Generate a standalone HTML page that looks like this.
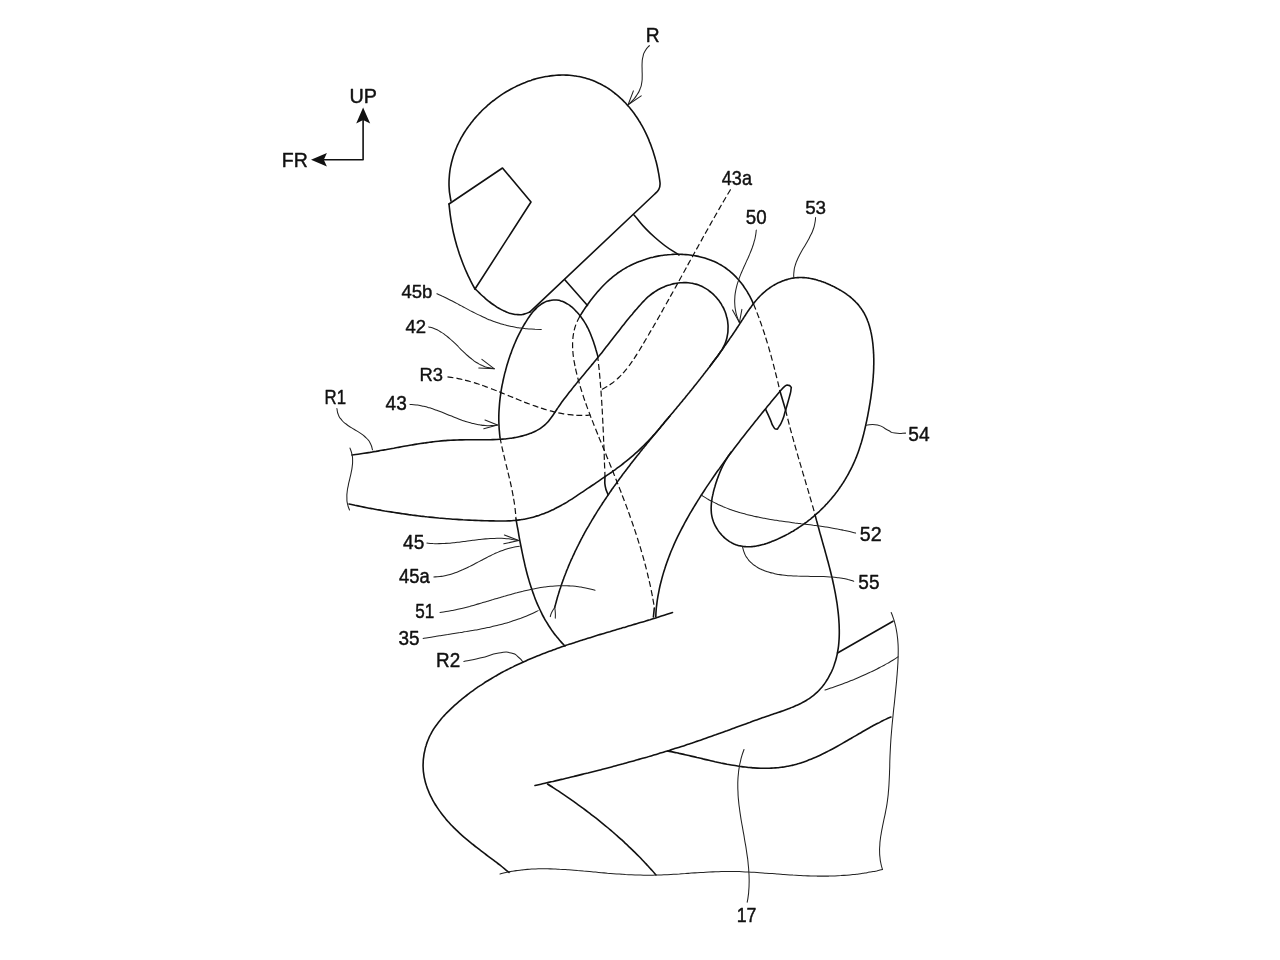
<!DOCTYPE html>
<html><head><meta charset="utf-8"><title>Figure</title>
<style>html,body{margin:0;padding:0;background:#fff;}body{width:1280px;height:960px;overflow:hidden;font-family:"Liberation Sans",sans-serif;}svg{display:block;}</style>
</head><body>
<svg width="1280" height="960" viewBox="0 0 1280 960">
<rect width="1280" height="960" fill="#fff"/>
<g fill="none" stroke="#111" stroke-width="1.6" stroke-linecap="round" stroke-linejoin="round">
<path d="M451.0,201.0C450.6,199.0 450.5,199.0 449.9,194.9C449.3,190.9 449.5,192.9 449.2,188.8C449.0,184.8 449.0,186.8 449.0,182.8C449.1,178.8 449.0,180.8 449.3,176.8C449.6,172.9 449.4,174.8 449.9,170.9C450.5,167.0 450.1,168.9 451.0,165.0C451.8,161.2 451.3,163.1 452.4,159.3C453.5,155.4 452.9,157.3 454.2,153.6C455.5,149.8 454.8,151.7 456.3,148.0C457.9,144.3 457.1,146.1 458.8,142.5C460.6,138.9 459.7,140.7 461.6,137.2C463.6,133.7 462.6,135.4 464.7,132.0C466.9,128.6 465.8,130.3 468.1,127.0C470.5,123.7 469.3,125.3 471.8,122.1C474.3,118.9 473.0,120.5 475.7,117.4C478.4,114.3 477.0,115.8 479.8,112.9C482.7,109.9 481.2,111.3 484.2,108.5C487.2,105.7 485.7,107.1 488.8,104.4C491.9,101.7 490.3,103.0 493.6,100.5C496.8,98.0 495.2,99.2 498.5,96.8C501.9,94.5 500.2,95.6 503.6,93.4C507.1,91.2 505.4,92.3 508.9,90.3C512.4,88.2 510.7,89.2 514.3,87.4C517.9,85.5 516.1,86.4 519.8,84.7C523.5,83.1 521.6,83.8 525.4,82.4C529.1,80.9 527.2,81.6 531.0,80.4C534.8,79.1 532.9,79.7 536.8,78.6C540.6,77.6 538.7,78.1 542.5,77.2C546.4,76.4 544.5,76.8 548.3,76.2C552.2,75.6 550.3,75.8 554.2,75.5C558.0,75.1 556.1,75.2 560.0,75.1C563.9,75.0 561.9,75.0 565.8,75.1C569.7,75.2 567.7,75.1 571.6,75.5C575.4,75.9 573.5,75.6 577.3,76.3C581.1,76.9 579.2,76.5 583.0,77.5C586.7,78.4 584.8,77.9 588.5,79.1C592.2,80.3 590.4,79.6 594.0,81.1C597.6,82.6 595.8,81.8 599.4,83.5C602.9,85.2 601.2,84.3 604.6,86.3C608.0,88.3 606.3,87.2 609.6,89.4C612.9,91.7 611.3,90.5 614.4,93.0C617.6,95.4 616.1,94.1 619.1,96.8C622.1,99.5 620.6,98.1 623.4,100.9C626.3,103.8 624.9,102.3 627.6,105.4C630.3,108.4 629.0,106.9 631.5,110.1C634.0,113.3 632.8,111.6 635.2,115.0C637.5,118.3 636.4,116.6 638.6,120.1C640.8,123.6 639.7,121.8 641.8,125.4C643.8,129.0 642.8,127.2 644.7,130.9C646.5,134.5 645.6,132.7 647.3,136.4C649.0,140.2 648.2,138.3 649.7,142.1C651.3,145.9 650.5,144.0 651.9,147.9C653.3,151.7 652.6,149.8 653.8,153.7C655.0,157.5 654.5,155.6 655.5,159.5C656.6,163.4 656.1,161.4 657.0,165.3C657.9,169.2 657.5,167.3 658.2,171.1C658.9,174.9 658.6,173.0 659.2,176.8C659.8,180.6 659.7,180.6 660.0,182.5C660.5,187.5 658.8,190.8 655,193.75L530,311.9"/>
<path d="M530.0,311.9C528.0,312.6 528.0,313.2 524.0,314.1C519.9,315.1 521.9,314.8 517.9,314.6C513.8,314.5 515.8,314.7 511.8,313.7C507.8,312.8 509.7,313.3 505.8,311.7C501.9,310.1 503.8,311.0 500.0,308.9C496.2,306.8 498.0,307.9 494.4,305.4C490.7,302.9 492.5,304.2 489.0,301.5C485.6,298.7 487.2,300.1 484.0,297.2C480.8,294.4 482.3,295.8 479.3,292.9C476.3,290.1 476.4,290.1 475.0,288.8"/>
<path d="M449.0,204.0L502.5,168.0L531.0,202.0L475.0,289.0"/>
<path d="M449.0,204.0C449.2,206.1 449.2,206.1 449.7,210.4C450.2,214.6 449.9,212.5 450.5,216.7C451.1,220.9 450.8,218.8 451.5,223.0C452.3,227.2 451.9,225.1 452.7,229.3C453.6,233.5 453.1,231.4 454.1,235.5C455.1,239.7 454.6,237.6 455.7,241.7C456.8,245.9 456.2,243.8 457.5,247.9C458.7,252.0 458.1,249.9 459.4,254.0C460.8,258.0 460.1,256.0 461.6,260.0C463.0,264.0 462.3,262.0 463.9,266.0C465.5,269.9 464.6,268.0 466.4,271.9C468.1,275.8 467.2,273.8 469.1,277.7C470.9,281.5 470.0,279.6 471.9,283.4C473.9,287.2 474.0,287.1 475.0,289.0"/>
<path d="M634.0,215.0C641.0,222.5 640.0,224.2 655.0,237.5C670.0,250.8 671.0,249.2 679.0,255.0"/>
<path d="M564.8,279.7L587.5,305.5"/>
<path d="M579.7,316.4C580.8,314.7 580.8,314.7 583.0,311.3C585.2,307.9 584.1,309.6 586.4,306.3C588.8,303.0 587.6,304.6 590.0,301.3C592.4,298.1 591.2,299.7 593.7,296.5C596.3,293.3 595.0,294.9 597.6,291.8C600.3,288.8 598.9,290.3 601.7,287.3C604.4,284.4 603.0,285.8 605.9,283.0C608.8,280.2 607.3,281.6 610.4,278.9C613.4,276.3 611.8,277.6 615.0,275.1C618.2,272.7 616.6,273.8 619.9,271.6C623.2,269.4 621.5,270.4 625.0,268.4C628.5,266.3 626.7,267.3 630.3,265.5C633.9,263.7 632.1,264.5 635.8,262.9C639.5,261.3 637.6,262.1 641.5,260.7C645.3,259.3 643.4,259.9 647.2,258.8C651.1,257.6 649.2,258.1 653.2,257.2C657.1,256.2 655.1,256.7 659.1,255.9C663.2,255.2 661.1,255.5 665.2,255.0C669.3,254.6 667.2,254.7 671.3,254.5C675.4,254.2 673.4,254.3 677.4,254.3C681.5,254.3 679.5,254.2 683.6,254.5C687.7,254.7 685.6,254.5 689.7,255.0C693.7,255.5 691.7,255.2 695.7,255.9C699.7,256.6 697.7,256.2 701.6,257.2C705.5,258.2 703.6,257.6 707.4,258.9C711.2,260.2 709.3,259.5 713.0,261.0C716.7,262.6 714.9,261.8 718.4,263.6C721.9,265.5 720.2,264.5 723.5,266.6C726.8,268.8 725.2,267.6 728.4,270.1C731.5,272.5 730.0,271.2 732.9,273.9C735.8,276.7 734.4,275.3 737.1,278.2C739.8,281.2 738.5,279.7 741.0,282.8C743.6,286.0 742.4,284.4 744.6,287.8C746.9,291.1 745.9,289.4 747.9,293.0C750.0,296.5 749.0,294.7 750.9,298.4C752.7,302.1 752.6,302.1 753.5,304.0"/>
<path d="M815.0,514.5C815.5,516.5 815.5,516.5 816.5,520.4C817.6,524.3 817.1,522.4 818.1,526.3C819.2,530.2 818.7,528.2 819.7,532.1C820.8,536.0 820.3,534.1 821.4,538.0C822.5,541.9 821.9,539.9 823.0,543.8C824.1,547.7 823.6,545.7 824.7,549.6C825.7,553.5 825.2,551.6 826.3,555.5C827.3,559.3 826.8,557.4 827.9,561.3C828.9,565.2 828.4,563.2 829.4,567.1C830.4,571.0 829.9,569.1 830.9,573.0C831.8,576.9 831.4,574.9 832.3,578.8C833.2,582.7 832.7,580.8 833.6,584.7C834.4,588.6 834.0,586.7 834.8,590.6C835.6,594.6 835.2,592.6 835.9,596.6C836.6,600.5 836.2,598.5 836.9,602.5C837.5,606.5 837.2,604.5 837.7,608.6C838.2,612.6 838.0,610.6 838.4,614.6C838.8,618.7 838.6,616.7 838.9,620.7C839.1,624.8 839.1,622.8 839.2,626.9C839.3,631.0 839.3,628.9 839.3,633.0C839.2,637.1 839.3,635.1 839.1,639.2C838.8,643.2 839.0,641.2 838.6,645.3C838.1,649.3 838.4,647.3 837.7,651.3C837.0,655.3 837.4,653.3 836.5,657.2C835.5,661.2 836.1,659.2 834.8,663.1C833.6,666.9 834.3,665.0 832.8,668.8C831.2,672.5 832.1,670.7 830.2,674.2C828.4,677.8 829.4,676.1 827.3,679.5C825.2,682.9 826.3,681.3 824.0,684.4C821.6,687.6 822.9,686.1 820.2,689.0C817.6,691.9 819.0,690.5 816.1,693.2C813.2,695.8 814.7,694.6 811.5,696.9C808.4,699.2 810.0,698.1 806.6,700.2C803.3,702.2 805.0,701.2 801.4,703.1C797.9,704.9 799.7,704.0 796.0,705.6C792.3,707.3 794.2,706.5 790.4,708.0C786.6,709.5 788.5,708.8 784.6,710.2C780.7,711.6 782.6,710.9 778.7,712.2C774.8,713.6 776.8,712.9 772.9,714.2C769.0,715.5 770.9,714.9 767.0,716.2C763.1,717.6 765.1,716.9 761.2,718.2C757.4,719.6 759.3,718.9 755.4,720.3C751.6,721.7 753.5,721.0 749.7,722.4C745.9,723.7 747.8,723.1 744.0,724.4C740.2,725.8 742.1,725.1 738.3,726.5C734.5,727.9 736.4,727.2 732.7,728.6C728.9,730.0 730.8,729.3 727.0,730.7C723.2,732.0 725.1,731.4 721.3,732.7C717.6,734.1 719.5,733.4 715.7,734.8C711.9,736.1 713.8,735.5 710.0,736.8C706.2,738.1 708.1,737.5 704.3,738.8C700.6,740.1 702.4,739.5 698.6,740.8C694.8,742.1 696.8,741.4 692.9,742.7C689.1,744.0 691.0,743.4 687.2,744.6C683.4,745.9 685.3,745.3 681.5,746.5C677.6,747.7 679.6,747.1 675.7,748.3C671.9,749.6 673.8,749.0 669.9,750.2C666.1,751.4 668.0,750.8 664.1,752.0C660.3,753.1 662.2,752.6 658.3,753.7C654.5,754.9 656.4,754.3 652.5,755.5C648.7,756.6 650.6,756.0 646.7,757.2C642.8,758.3 644.8,757.7 640.9,758.8C637.0,760.0 638.9,759.4 635.0,760.5C631.1,761.6 633.1,761.1 629.2,762.1C625.3,763.2 627.2,762.7 623.3,763.8C619.4,764.8 621.4,764.3 617.4,765.3C613.5,766.4 615.5,765.9 611.6,766.9C607.6,767.9 609.6,767.4 605.7,768.4C601.8,769.5 603.7,769.0 599.8,770.0C595.9,771.0 597.8,770.5 593.9,771.5C590.0,772.5 591.9,772.0 588.0,773.0C584.1,773.9 586.1,773.4 582.1,774.4C578.2,775.4 580.2,774.9 576.2,775.9C572.3,776.8 574.3,776.3 570.3,777.3C566.4,778.2 568.4,777.8 564.4,778.7C560.5,779.6 562.5,779.2 558.5,780.1C554.6,781.0 556.6,780.5 552.7,781.5C548.7,782.4 550.7,781.9 546.8,782.8C542.8,783.7 544.8,783.3 540.9,784.2C537.0,785.1 537.0,785.1 535.0,785.5"/>
<path d="M554.7,607.5C554.9,606.8 554.9,606.8 555.3,605.3C555.7,603.8 555.5,604.5 555.9,603.1C556.3,601.6 556.1,602.3 556.5,600.8C556.9,599.4 556.7,600.1 557.1,598.6C557.5,597.2 557.3,597.9 557.7,596.4C558.2,595.0 557.9,595.7 558.4,594.2C558.8,592.8 558.6,593.5 559.1,592.1C559.5,590.6 559.3,591.3 559.7,589.9C560.2,588.4 560.0,589.2 560.5,587.7C560.9,586.3 560.7,587.0 561.2,585.6C561.7,584.1 561.4,584.8 561.9,583.4C562.4,582.0 562.2,582.7 562.7,581.2C563.2,579.8 562.9,580.5 563.5,579.1C564.0,577.7 563.7,578.4 564.2,577.0C564.8,575.6 564.5,576.3 565.1,574.8C565.6,573.4 565.3,574.1 565.9,572.7C566.4,571.3 566.2,572.0 566.7,570.6C567.3,569.2 567.0,569.9 567.6,568.5C568.1,567.1 567.9,567.8 568.4,566.4C569.0,565.0 568.7,565.7 569.3,564.3C569.9,562.9 569.6,563.6 570.2,562.2C570.8,560.8 570.5,561.5 571.1,560.2C571.7,558.8 571.4,559.5 572.1,558.1C572.7,556.7 572.4,557.4 573.0,556.0C573.6,554.6 573.3,555.3 574.0,554.0C574.6,552.6 574.3,553.3 574.9,551.9C575.6,550.5 575.2,551.2 575.9,549.9C576.6,548.5 576.2,549.2 576.9,547.8C577.6,546.5 577.2,547.1 577.9,545.8C578.6,544.4 578.2,545.1 578.9,543.8C579.6,542.4 579.3,543.1 580.0,541.7C580.7,540.4 580.3,541.1 581.0,539.7C581.7,538.4 581.4,539.0 582.1,537.7C582.8,536.4 582.4,537.0 583.1,535.7C583.9,534.4 583.5,535.0 584.2,533.7C584.9,532.4 584.6,533.0 585.3,531.7C586.1,530.4 585.7,531.1 586.4,529.7C587.2,528.4 586.8,529.1 587.5,527.8C588.3,526.4 587.9,527.1 588.7,525.8C589.4,524.5 589.1,525.1 589.8,523.8C590.6,522.5 590.2,523.2 591.0,521.9C591.7,520.6 591.3,521.2 592.1,519.9C592.9,518.6 592.5,519.2 593.3,518.0C594.1,516.7 593.7,517.3 594.5,516.0C595.3,514.7 594.9,515.4 595.7,514.1C596.5,512.8 596.1,513.4 596.9,512.1C597.7,510.8 597.3,511.5 598.1,510.2C598.9,508.9 598.5,509.6 599.3,508.3C600.1,507.0 599.7,507.6 600.5,506.4C601.4,505.1 601.0,505.7 601.8,504.5C602.6,503.2 602.2,503.8 603.0,502.5C603.9,501.3 603.5,501.9 604.3,500.6C605.1,499.4 604.7,500.0 605.6,498.8C606.4,497.5 606.0,498.1 606.8,496.9C607.7,495.6 607.3,496.2 608.1,495.0C609.0,493.7 608.6,494.3 609.4,493.1C610.3,491.8 609.8,492.5 610.7,491.2C611.6,490.0 611.1,490.6 612.0,489.3C612.9,488.1 612.5,488.7 613.3,487.5C614.2,486.2 613.8,486.9 614.7,485.6C615.5,484.4 615.1,485.0 616.0,483.8C616.9,482.5 616.4,483.1 617.3,481.9C618.2,480.7 617.8,481.3 618.7,480.1C619.6,478.8 619.1,479.4 620.0,478.2C620.9,477.0 620.5,477.6 621.4,476.4C622.3,475.2 621.8,475.8 622.7,474.5C623.6,473.3 623.2,473.9 624.1,472.7C625.0,471.5 624.6,472.1 625.5,470.9C626.4,469.7 625.9,470.3 626.9,469.1C627.8,467.9 627.3,468.5 628.2,467.3C629.2,466.1 628.7,466.7 629.6,465.5C630.6,464.2 630.1,464.8 631.0,463.6C632.0,462.4 631.5,463.0 632.4,461.8C633.4,460.6 632.9,461.2 633.8,460.0C634.8,458.8 634.3,459.4 635.2,458.2C636.2,457.1 635.7,457.6 636.6,456.5C637.6,455.3 637.1,455.9 638.1,454.7C639.0,453.5 638.5,454.1 639.5,452.9C640.4,451.7 640.0,452.3 640.9,451.1C641.9,449.9 641.4,450.5 642.3,449.3C643.3,448.1 642.8,448.7 643.8,447.6C644.7,446.4 644.2,447.0 645.2,445.8C646.2,444.6 645.7,445.2 646.6,444.0C647.6,442.8 647.1,443.4 648.1,442.3C649.0,441.1 648.6,441.7 649.5,440.5C650.5,439.3 650.0,439.9 651.0,438.7C651.9,437.6 651.4,438.1 652.4,437.0C653.4,435.8 652.9,436.4 653.9,435.2C654.8,434.1 654.3,434.6 655.3,433.5C656.3,432.3 655.8,432.9 656.8,431.7C657.7,430.5 657.2,431.1 658.2,430.0C659.2,428.8 658.7,429.4 659.7,428.2C660.6,427.0 660.2,427.6 661.1,426.5C662.1,425.3 661.6,425.9 662.6,424.7C663.6,423.5 663.1,424.1 664.0,423.0C665.0,421.8 664.5,422.4 665.5,421.2C666.5,420.1 666.0,420.6 667.0,419.5C667.9,418.3 667.4,418.9 668.4,417.7C669.4,416.6 668.9,417.1 669.9,416.0C670.8,414.8 670.4,415.4 671.3,414.2C672.3,413.1 671.8,413.7 672.8,412.5C673.8,411.3 673.3,411.9 674.2,410.7C675.2,409.6 674.7,410.2 675.7,409.0C676.7,407.8 676.2,408.4 677.1,407.2C678.1,406.1 677.6,406.7 678.6,405.5C679.6,404.3 679.1,404.9 680.0,403.7C681.0,402.6 680.5,403.2 681.5,402.0C682.5,400.8 682.0,401.4 682.9,400.2C683.9,399.1 683.4,399.7 684.4,398.5C685.4,397.3 684.9,397.9 685.8,396.7C686.8,395.5 686.3,396.1 687.3,395.0C688.2,393.8 687.8,394.4 688.7,393.2C689.7,392.0 689.2,392.6 690.1,391.4C691.1,390.3 690.6,390.8 691.6,389.7C692.5,388.5 692.1,389.1 693.0,387.9C694.0,386.7 693.5,387.3 694.4,386.1C695.4,384.9 694.9,385.5 695.8,384.4C696.8,383.2 696.3,383.8 697.3,382.6C698.2,381.4 697.7,382.0 698.7,380.8C699.6,379.6 699.1,380.2 700.1,379.0C701.0,377.8 700.6,378.4 701.5,377.2C702.4,376.0 702.0,376.6 702.9,375.4C703.8,374.2 703.4,374.8 704.3,373.6C705.2,372.4 704.8,373.0 705.7,371.8C706.6,370.6 706.1,371.2 707.1,370.0C708.0,368.8 707.5,369.4 708.4,368.2C709.4,367.0 708.9,367.6 709.8,366.4C710.7,365.2 710.3,365.8 711.2,364.6C712.1,363.4 711.6,364.0 712.6,362.7C713.5,361.5 713.0,362.1 713.9,360.9C714.8,359.7 714.4,360.3 715.3,359.1C716.2,357.9 715.7,358.5 716.6,357.3C717.5,356.0 717.1,356.6 718.0,355.4C718.9,354.2 718.4,354.8 719.3,353.6C720.2,352.3 719.8,353.0 720.6,351.7C721.5,350.5 721.1,351.1 722.0,349.9C722.9,348.6 722.4,349.2 723.3,348.0C724.2,346.8 723.7,347.4 724.6,346.1C725.5,344.9 725.1,345.5 725.9,344.3C726.8,343.0 726.4,343.7 727.2,342.4C728.1,341.2 727.7,341.8 728.5,340.5C729.4,339.3 729.0,339.9 729.8,338.6C730.7,337.4 730.3,338.0 731.1,336.8C732.0,335.5 731.5,336.1 732.4,334.9C733.3,333.6 732.8,334.2 733.7,333.0C734.5,331.7 734.1,332.3 735.0,331.1C735.8,329.8 735.4,330.4 736.2,329.2C737.1,327.9 736.6,328.5 737.5,327.3C738.3,326.0 737.9,326.6 738.7,325.4C739.6,324.1 739.2,324.7 740.0,323.4C740.8,322.2 740.4,322.8 741.2,321.5C742.1,320.2 741.6,320.9 742.5,319.6C743.3,318.3 742.9,318.9 743.7,317.7C744.5,316.4 744.1,317.0 745.0,315.8C745.8,314.5 745.4,315.1 746.2,313.8C747.1,312.6 746.6,313.2 747.5,311.9C748.3,310.7 747.9,311.3 748.8,310.1C749.6,308.8 749.2,309.4 750.1,308.2C751.0,307.0 750.5,307.6 751.4,306.4C752.3,305.1 751.9,305.7 752.8,304.5C753.7,303.3 753.2,303.9 754.2,302.8C755.1,301.6 754.6,302.2 755.6,301.0C756.6,299.8 756.1,300.4 757.1,299.3C758.1,298.1 757.6,298.7 758.6,297.6C759.6,296.5 759.1,297.0 760.1,296.0C761.2,294.9 760.7,295.4 761.8,294.4C762.9,293.3 762.3,293.8 763.4,292.8C764.6,291.8 764.0,292.3 765.2,291.3C766.3,290.3 765.7,290.8 766.9,289.9C768.2,288.9 767.5,289.4 768.8,288.5C770.0,287.6 769.4,288.0 770.7,287.2C772.0,286.3 771.3,286.7 772.7,285.9C774.0,285.1 773.3,285.5 774.7,284.7C776.0,284.0 775.3,284.4 776.7,283.6C778.1,282.9 777.4,283.3 778.8,282.6C780.2,282.0 779.5,282.3 780.9,281.7C782.3,281.1 781.6,281.4 783.0,280.8C784.5,280.3 783.7,280.5 785.2,280.0C786.6,279.6 785.9,279.8 787.4,279.4C788.8,279.0 788.1,279.1 789.6,278.8C791.0,278.4 790.3,278.6 791.8,278.3C793.2,278.0 792.5,278.2 794.0,278.0C795.5,277.8 794.7,277.8 796.2,277.7C797.7,277.6 796.9,277.6 798.4,277.6C799.9,277.5 799.2,277.5 800.6,277.5C802.1,277.5 801.4,277.5 802.8,277.6C804.3,277.6 803.6,277.6 805.1,277.7C806.5,277.8 805.8,277.8 807.3,278.0C808.8,278.1 808.0,278.0 809.5,278.3C811.0,278.5 810.2,278.4 811.7,278.7C813.2,279.0 812.4,278.8 813.9,279.2C815.4,279.5 814.6,279.3 816.1,279.7C817.6,280.1 816.8,279.9 818.3,280.4C819.7,280.8 819.0,280.6 820.5,281.0C821.9,281.5 821.2,281.3 822.6,281.8C824.1,282.3 823.4,282.1 824.8,282.6C826.2,283.2 825.5,282.9 827.0,283.5C828.4,284.1 827.7,283.8 829.1,284.4C830.5,285.0 829.8,284.7 831.2,285.4C832.6,286.0 831.9,285.7 833.3,286.4C834.7,287.1 834.0,286.7 835.4,287.5C836.8,288.2 836.1,287.8 837.5,288.6C838.9,289.3 838.2,288.9 839.5,289.7C840.9,290.5 840.2,290.1 841.5,290.9C842.9,291.7 842.2,291.3 843.5,292.1C844.8,293.0 844.2,292.6 845.4,293.4C846.7,294.3 846.1,293.9 847.3,294.8C848.6,295.7 848.0,295.2 849.2,296.2C850.4,297.1 849.8,296.6 851.0,297.6C852.1,298.6 851.5,298.1 852.7,299.1C853.8,300.1 853.3,299.6 854.3,300.7C855.4,301.7 854.9,301.2 855.9,302.3C857.0,303.3 856.5,302.8 857.5,303.9C858.5,305.0 858.0,304.4 858.9,305.6C859.9,306.8 859.4,306.2 860.3,307.4C861.2,308.5 860.8,307.9 861.6,309.2C862.4,310.4 862.0,309.8 862.8,311.0C863.6,312.3 863.2,311.6 864.0,312.9C864.7,314.2 864.3,313.6 865.0,314.9C865.7,316.2 865.4,315.5 866.0,316.9C866.6,318.2 866.3,317.6 866.9,318.9C867.5,320.3 867.2,319.6 867.7,321.0C868.3,322.4 868.0,321.7 868.5,323.1C869.0,324.6 868.7,323.8 869.2,325.3C869.6,326.7 869.4,326.0 869.8,327.5C870.2,328.9 870.0,328.2 870.4,329.7C870.8,331.1 870.6,330.4 870.9,331.9C871.3,333.4 871.1,332.6 871.4,334.1C871.7,335.6 871.5,334.9 871.8,336.4C872.1,337.9 871.9,337.2 872.2,338.7C872.4,340.2 872.3,339.4 872.5,341.0C872.7,342.5 872.6,341.7 872.8,343.3C873.0,344.8 872.9,344.0 873.0,345.5C873.2,347.1 873.1,346.3 873.2,347.8C873.4,349.4 873.3,348.6 873.4,350.1C873.5,351.7 873.5,350.9 873.5,352.4C873.6,353.9 873.6,353.2 873.7,354.7C873.7,356.2 873.7,355.5 873.7,357.0C873.8,358.5 873.8,357.8 873.8,359.3C873.8,360.8 873.8,360.0 873.8,361.6C873.8,363.1 873.8,362.3 873.8,363.8C873.8,365.4 873.8,364.6 873.7,366.1C873.7,367.6 873.7,366.9 873.7,368.4C873.6,369.9 873.7,369.1 873.6,370.7C873.5,372.2 873.6,371.4 873.5,372.9C873.4,374.5 873.4,373.7 873.3,375.2C873.2,376.7 873.3,376.0 873.2,377.5C873.0,379.0 873.1,378.2 873.0,379.7C872.8,381.3 872.9,380.5 872.8,382.0C872.6,383.5 872.7,382.8 872.5,384.3C872.4,385.8 872.5,385.0 872.3,386.5C872.1,388.0 872.2,387.3 872.0,388.8C871.8,390.3 871.9,389.5 871.7,391.0C871.5,392.6 871.6,391.8 871.4,393.3C871.2,394.8 871.3,394.1 871.1,395.6C870.9,397.1 871.0,396.3 870.8,397.8C870.6,399.3 870.7,398.6 870.4,400.1C870.2,401.6 870.3,400.8 870.1,402.3C869.8,403.8 870.0,403.1 869.7,404.6C869.4,406.1 869.6,405.3 869.3,406.8C869.1,408.3 869.2,407.6 868.9,409.1C868.7,410.6 868.8,409.8 868.5,411.3C868.2,412.8 868.4,412.1 868.1,413.6C867.8,415.1 868.0,414.3 867.7,415.8C867.4,417.3 867.5,416.6 867.2,418.1C866.9,419.6 867.1,418.8 866.8,420.3C866.5,421.8 866.6,421.0 866.3,422.5C866.0,424.0 866.2,423.3 865.8,424.8C865.5,426.3 865.7,425.5 865.3,427.0C865.0,428.5 865.2,427.7 864.8,429.2C864.5,430.7 864.7,430.0 864.3,431.4C863.9,432.9 864.1,432.2 863.8,433.6C863.4,435.1 863.6,434.4 863.2,435.8C862.8,437.3 863.0,436.6 862.6,438.0C862.2,439.5 862.4,438.8 862.0,440.2C861.6,441.7 861.8,441.0 861.4,442.4C860.9,443.9 861.1,443.1 860.7,444.6C860.2,446.0 860.5,445.3 860.0,446.7C859.5,448.2 859.8,447.5 859.3,448.9C858.8,450.3 859.1,449.6 858.6,451.0C858.1,452.5 858.3,451.8 857.8,453.2C857.3,454.6 857.5,453.9 857.0,455.3C856.5,456.7 856.7,456.0 856.2,457.4C855.6,458.8 855.9,458.1 855.3,459.5C854.8,460.9 855.0,460.2 854.4,461.6C853.8,462.9 854.1,462.3 853.5,463.6C852.9,465.0 853.2,464.3 852.6,465.7C851.9,467.0 852.3,466.4 851.6,467.7C850.9,469.1 851.3,468.4 850.6,469.7C849.9,471.1 850.3,470.4 849.5,471.7C848.8,473.1 849.2,472.4 848.5,473.7C847.8,475.1 848.1,474.4 847.4,475.7C846.6,477.0 847.0,476.4 846.2,477.7C845.5,479.0 845.9,478.3 845.1,479.6C844.3,480.9 844.7,480.3 843.9,481.5C843.1,482.8 843.5,482.2 842.7,483.4C841.8,484.7 842.3,484.1 841.4,485.3C840.6,486.6 841.0,486.0 840.1,487.2C839.3,488.4 839.7,487.8 838.8,489.1C838.0,490.3 838.4,489.7 837.5,490.9C836.6,492.1 837.1,491.5 836.1,492.7C835.2,493.9 835.7,493.3 834.8,494.5C833.8,495.7 834.3,495.1 833.3,496.3C832.4,497.4 832.9,496.9 831.9,498.0C830.9,499.2 831.4,498.6 830.4,499.8C829.4,500.9 829.9,500.3 828.9,501.5C827.9,502.6 828.4,502.0 827.4,503.2C826.4,504.3 826.9,503.7 825.8,504.8C824.8,505.9 825.3,505.4 824.3,506.5C823.2,507.6 823.7,507.0 822.7,508.1C821.6,509.2 822.1,508.6 821.0,509.7C820.0,510.7 820.5,510.2 819.4,511.3C818.3,512.3 818.8,511.8 817.7,512.8C816.6,513.8 817.2,513.3 816.0,514.3C814.9,515.4 815.5,514.8 814.3,515.8C813.1,516.8 813.7,516.3 812.5,517.3C811.4,518.3 812.0,517.8 810.8,518.8C809.6,519.7 810.2,519.3 809.0,520.2C807.8,521.1 808.4,520.7 807.2,521.6C805.9,522.5 806.6,522.1 805.3,523.0C804.1,523.9 804.7,523.4 803.5,524.3C802.2,525.2 802.8,524.8 801.6,525.6C800.3,526.5 800.9,526.1 799.7,526.9C798.4,527.8 799.0,527.4 797.7,528.2C796.4,529.0 797.1,528.6 795.8,529.4C794.5,530.3 795.1,529.9 793.8,530.7C792.5,531.5 793.1,531.1 791.8,531.8C790.5,532.6 791.1,532.2 789.8,533.0C788.4,533.7 789.1,533.4 787.8,534.1C786.4,534.8 787.1,534.5 785.7,535.2C784.3,535.9 785.0,535.6 783.6,536.3C782.2,537.0 782.9,536.6 781.5,537.3C780.1,538.0 780.8,537.6 779.4,538.3C778.0,538.9 778.7,538.6 777.3,539.3C775.8,539.9 776.6,539.6 775.1,540.2C773.7,540.8 774.4,540.5 772.9,541.1C771.5,541.7 772.2,541.4 770.8,541.9C769.3,542.5 770.0,542.2 768.6,542.7C767.1,543.3 767.8,543.0 766.4,543.5C764.9,544.0 765.6,543.7 764.1,544.2C762.7,544.6 763.4,544.4 761.9,544.8C760.5,545.2 761.2,545.0 759.7,545.3C758.2,545.7 759.0,545.5 757.5,545.8C756.0,546.1 756.8,546.0 755.3,546.2C753.8,546.4 754.6,546.3 753.1,546.5C751.6,546.6 752.4,546.6 750.9,546.7C749.4,546.7 750.2,546.7 748.7,546.7C747.3,546.8 748.0,546.8 746.5,546.7C745.1,546.7 745.8,546.7 744.4,546.6C743.0,546.4 743.7,546.5 742.3,546.3C740.9,546.1 741.6,546.2 740.2,545.9C738.8,545.6 739.5,545.8 738.1,545.4C736.7,545.0 737.4,545.2 736.0,544.7C734.7,544.2 735.4,544.5 734.0,543.9C732.7,543.3 733.3,543.6 732.0,543.0C730.7,542.3 731.4,542.6 730.1,541.9C728.8,541.1 729.4,541.5 728.2,540.6C727.0,539.8 727.6,540.2 726.4,539.3C725.2,538.3 725.7,538.8 724.6,537.8C723.4,536.8 724.0,537.3 722.9,536.2C721.8,535.1 722.3,535.7 721.3,534.5C720.3,533.4 720.8,533.9 719.8,532.7C718.8,531.5 719.3,532.1 718.4,530.9C717.5,529.6 717.9,530.3 717.1,528.9C716.2,527.6 716.6,528.3 715.9,526.9C715.1,525.6 715.5,526.3 714.8,524.9C714.1,523.5 714.4,524.2 713.9,522.8C713.3,521.4 713.5,522.1 713.1,520.6C712.6,519.2 712.8,519.9 712.4,518.5C712.0,517.0 712.2,517.7 711.9,516.3C711.6,514.8 711.7,515.5 711.5,514.0C711.3,512.5 711.4,513.3 711.3,511.8C711.2,510.3 711.2,511.0 711.2,509.5C711.1,508.0 711.1,508.8 711.2,507.2C711.2,505.7 711.2,506.5 711.3,504.9C711.4,503.4 711.3,504.2 711.5,502.6C711.6,501.1 711.5,501.9 711.8,500.3C712.0,498.8 711.9,499.6 712.1,498.0C712.4,496.5 712.2,497.3 712.6,495.7C712.9,494.2 712.7,495.0 713.1,493.5C713.4,491.9 713.2,492.7 713.6,491.2C714.0,489.7 713.8,490.4 714.2,488.9C714.6,487.4 714.4,488.2 714.9,486.7C715.3,485.2 715.1,485.9 715.5,484.5C716.0,483.0 715.8,483.7 716.2,482.3C716.7,480.8 716.5,481.5 717.0,480.1C717.4,478.7 717.2,479.4 717.7,477.9C718.2,476.5 718.0,477.2 718.5,475.8C719.0,474.4 718.7,475.1 719.3,473.7C719.8,472.3 719.6,473.0 720.1,471.7C720.7,470.3 720.4,471.0 721.0,469.6C721.6,468.2 721.3,468.9 721.9,467.6C722.6,466.2 722.2,466.9 722.9,465.6C723.6,464.2 723.2,464.9 723.9,463.6C724.6,462.3 724.3,462.9 725.0,461.6C725.7,460.3 725.4,460.9 726.1,459.6C726.9,458.4 726.5,459.0 727.3,457.7C728.1,456.4 727.7,457.1 728.6,455.8C729.4,454.5 729.0,455.2 729.9,453.9C730.8,452.6 730.8,452.6 731.2,452.0"/>
<path d="M351.9,455.0C353.9,454.7 353.9,454.8 358.0,454.2C362.0,453.6 360.0,453.9 364.0,453.3C368.0,452.7 366.0,453.0 370.0,452.4C374.0,451.7 372.0,452.0 376.0,451.4C379.9,450.7 378.0,451.0 381.9,450.3C385.9,449.6 383.9,450.0 387.9,449.2C391.8,448.5 389.8,448.9 393.8,448.2C397.8,447.4 395.8,447.8 399.7,447.1C403.7,446.4 401.7,446.7 405.7,446.0C409.6,445.3 407.6,445.7 411.6,445.0C415.5,444.3 413.6,444.6 417.5,444.0C421.5,443.4 419.5,443.7 423.5,443.1C427.4,442.5 425.4,442.8 429.4,442.3C433.4,441.8 431.4,442.0 435.4,441.5C439.4,441.1 437.4,441.3 441.4,440.9C445.4,440.6 443.4,440.7 447.5,440.4C451.5,440.1 449.5,440.3 453.5,440.1C457.6,439.9 455.5,440.0 459.6,439.9C463.7,439.8 461.7,439.8 465.8,439.8C469.8,439.8 467.8,439.8 471.9,439.8C476.0,439.8 474.0,439.8 478.1,439.8C482.2,439.8 480.1,439.8 484.2,439.8C488.3,439.7 486.3,439.8 490.3,439.7C494.4,439.6 492.4,439.7 496.4,439.5C500.5,439.3 498.5,439.4 502.5,439.1C506.5,438.8 504.5,439.0 508.5,438.5C512.5,438.0 510.5,438.3 514.4,437.6C518.4,436.9 516.4,437.4 520.3,436.4C524.2,435.5 522.3,436.1 526.0,434.9C529.8,433.7 528.0,434.4 531.6,432.9C535.2,431.4 533.5,432.2 536.9,430.4C540.3,428.5 538.7,429.6 541.8,427.3C545.0,425.0 543.5,426.2 546.3,423.5C549.1,420.7 547.7,422.1 550.2,419.0C552.7,415.8 551.4,417.4 553.8,414.0C556.1,410.6 554.9,412.3 557.2,408.8C559.5,405.4 558.3,407.1 560.7,403.8C563.1,400.4 561.9,402.1 564.3,398.8C566.8,395.6 565.5,397.2 568.0,394.0C570.5,390.8 569.3,392.4 571.8,389.2C574.3,386.0 573.0,387.6 575.6,384.5C578.1,381.4 576.8,382.9 579.4,379.8C582.0,376.7 580.7,378.3 583.3,375.2C585.8,372.1 584.6,373.6 587.1,370.6C589.7,367.5 588.4,369.0 591.0,365.9C593.6,362.8 592.3,364.4 594.8,361.3C597.4,358.2 596.1,359.7 598.6,356.6C601.2,353.5 599.9,355.0 602.4,351.9C604.9,348.7 603.6,350.3 606.1,347.1C608.6,343.9 607.4,345.5 609.9,342.3C612.3,339.1 611.1,340.7 613.6,337.5C616.0,334.3 614.8,335.9 617.3,332.8C619.8,329.6 618.5,331.2 621.0,328.0C623.5,324.8 622.3,326.4 624.8,323.2C627.3,320.1 626.0,321.6 628.6,318.5C631.1,315.4 629.9,316.9 632.5,313.9C635.0,310.8 633.7,312.3 636.4,309.3C639.0,306.2 637.7,307.7 640.4,304.7C643.1,301.7 641.6,303.1 644.5,300.3C647.3,297.4 645.8,298.8 648.9,296.2C652.0,293.5 650.4,294.8 653.8,292.5C657.1,290.2 655.4,291.2 659.0,289.3C662.6,287.4 660.8,288.2 664.5,286.7C668.3,285.1 666.4,285.8 670.3,284.7C674.2,283.5 672.3,284.0 676.2,283.3C680.2,282.7 678.2,282.9 682.2,282.7C686.1,282.5 684.2,282.5 688.1,282.8C692.0,283.1 690.1,282.8 693.9,283.7C697.8,284.6 695.9,284.0 699.6,285.5C703.2,286.9 701.5,286.1 704.9,288.1C708.4,290.1 706.7,289.0 709.9,291.5C713.1,293.9 711.6,292.6 714.5,295.5C717.3,298.4 716.0,296.9 718.5,300.1C721.0,303.4 719.9,301.7 721.9,305.3C724.0,308.8 723.1,307.0 724.7,310.8C726.2,314.6 725.6,312.7 726.6,316.7C727.7,320.7 727.3,318.7 727.8,322.8C728.2,326.9 728.1,324.9 728.0,329.0C727.9,333.1 728.1,331.1 727.4,335.1C726.7,339.1 727.2,337.2 726.0,341.0C724.7,344.9 725.4,343.0 723.6,346.6C721.9,350.2 722.8,348.4 720.6,351.8C718.4,355.1 719.5,353.5 717.1,356.7C714.7,360.0 715.8,358.3 713.4,361.5C711.0,364.8 711.0,364.8 709.8,366.4"/>
<path d="M669.9,416.0C668.6,417.5 668.6,417.5 666.0,420.6C663.4,423.7 664.7,422.2 662.1,425.3C659.5,428.4 660.8,426.9 658.2,430.0C655.6,433.0 656.9,431.5 654.2,434.5C651.5,437.5 652.9,436.1 650.1,439.0C647.4,442.0 648.8,440.5 645.9,443.4C643.1,446.3 644.5,444.8 641.6,447.6C638.7,450.5 640.2,449.1 637.2,451.8C634.2,454.5 635.7,453.2 632.7,455.8C629.6,458.5 631.2,457.2 628.1,459.7C624.9,462.3 626.5,461.0 623.3,463.5C620.2,466.0 621.8,464.8 618.5,467.2C615.3,469.6 616.9,468.4 613.6,470.7C610.3,473.1 612.0,471.9 608.7,474.2C605.3,476.5 607.0,475.4 603.6,477.7C600.3,479.9 602.0,478.8 598.6,481.1C595.2,483.3 596.9,482.2 593.6,484.5C590.2,486.7 591.9,485.6 588.5,487.9C585.1,490.2 586.8,489.0 583.5,491.3C580.1,493.6 581.8,492.5 578.4,494.7C575.0,497.0 576.7,495.9 573.3,498.1C569.9,500.3 571.7,499.2 568.2,501.3C564.8,503.5 566.5,502.4 563.0,504.4C559.5,506.4 561.2,505.5 557.7,507.3C554.1,509.2 555.9,508.3 552.2,510.0C548.6,511.7 550.4,510.9 546.7,512.4C543.0,513.9 544.8,513.2 541.1,514.6C537.3,515.9 539.2,515.3 535.3,516.4C531.5,517.6 533.4,517.0 529.5,518.0C525.6,518.9 527.6,518.5 523.7,519.2C519.7,519.9 521.7,519.6 517.7,520.1C513.7,520.6 515.7,520.4 511.7,520.7C507.7,521.0 509.7,520.8 505.6,521.0C501.6,521.1 503.6,521.0 499.5,521.0C495.5,521.0 497.5,521.0 493.4,520.9C489.4,520.9 491.4,520.9 487.3,520.8C483.3,520.7 485.3,520.8 481.3,520.6C477.2,520.5 479.2,520.6 475.2,520.4C471.1,520.2 473.1,520.3 469.1,520.1C465.0,519.9 467.1,520.0 463.0,519.8C459.0,519.5 461.0,519.7 457.0,519.4C452.9,519.1 454.9,519.3 450.9,519.0C446.9,518.7 448.9,518.8 444.8,518.5C440.8,518.2 442.8,518.3 438.8,518.0C434.8,517.6 436.8,517.8 432.8,517.4C428.7,517.0 430.7,517.2 426.7,516.8C422.7,516.3 424.7,516.5 420.7,516.1C416.7,515.6 418.7,515.9 414.7,515.4C410.7,514.9 412.7,515.1 408.7,514.6C404.7,514.0 406.7,514.3 402.7,513.7C398.7,513.2 400.7,513.5 396.7,512.9C392.7,512.3 394.7,512.6 390.7,511.9C386.7,511.3 388.7,511.6 384.7,511.0C380.7,510.3 382.7,510.6 378.7,509.9C374.8,509.2 376.7,509.6 372.8,508.8C368.8,508.1 370.8,508.5 366.8,507.7C362.8,506.9 364.8,507.3 360.9,506.5C356.9,505.7 358.9,506.1 354.9,505.3C351.0,504.4 351.0,504.4 349.0,504.0"/>
<path d="M780.0,391.3C778.7,392.8 778.7,392.8 776.1,395.9C773.5,399.1 774.8,397.5 772.3,400.6C769.7,403.7 771.0,402.2 768.4,405.3C765.8,408.4 767.1,406.9 764.5,410.0C762.0,413.2 763.3,411.6 760.7,414.7C758.1,417.9 759.4,416.3 756.9,419.5C754.3,422.6 755.6,421.1 753.1,424.2C750.5,427.4 751.8,425.8 749.3,429.0C746.7,432.2 748.0,430.6 745.5,433.8C743.0,437.0 744.2,435.4 741.7,438.6C739.3,441.8 740.5,440.2 738.0,443.4C735.5,446.6 736.8,445.0 734.3,448.3C731.9,451.5 733.1,449.9 730.7,453.1C728.2,456.4 729.4,454.7 727.0,458.0C724.6,461.3 725.8,459.6 723.4,462.9C721.0,466.2 722.2,464.6 719.9,467.9C717.5,471.2 718.7,469.5 716.3,472.8C714.0,476.2 715.2,474.5 712.9,477.8C710.6,481.2 711.7,479.5 709.4,482.9C707.1,486.2 708.3,484.5 706.0,487.9C703.8,491.3 704.9,489.6 702.7,493.0C700.5,496.4 701.6,494.7 699.4,498.1C697.2,501.6 698.3,499.8 696.2,503.3C694.0,506.7 695.1,505.0 693.0,508.5C690.9,512.0 692.0,510.2 689.9,513.7C687.9,517.2 688.9,515.5 686.9,519.0C684.9,522.6 685.9,520.8 684.0,524.3C682.1,527.9 683.0,526.1 681.2,529.7C679.3,533.3 680.2,531.5 678.4,535.2C676.6,538.8 677.5,537.0 675.8,540.6C674.1,544.3 674.9,542.5 673.3,546.2C671.7,549.9 672.5,548.0 670.9,551.8C669.4,555.6 670.2,553.7 668.7,557.5C667.3,561.3 668.0,559.4 666.6,563.2C665.3,567.1 665.9,565.1 664.7,569.0C663.4,572.9 664.0,571.0 662.9,574.9C661.8,578.8 662.3,576.9 661.3,580.8C660.3,584.8 660.7,582.8 659.8,586.8C658.9,590.8 659.4,588.8 658.6,592.8C657.8,596.8 658.2,594.8 657.5,598.8C656.9,602.8 657.2,600.8 656.7,604.8C656.2,608.8 656.4,606.8 656.1,610.8C655.8,614.7 655.9,614.7 655.8,616.7"/>
<path d="M654.3,608.0L653.4,617.0"/>
<path d="M780.0,391.2C781.7,389.6 782.3,388.2 785.0,386.2C787.7,384.3 786.2,385.2 788.1,385.3C790.0,385.4 789.6,385.2 790.6,386.6C791.6,388.0 791.4,386.1 791.0,389.5C790.6,392.9 791.2,390.1 789.4,396.9C787.6,403.7 787.9,402.3 785.6,410.0C783.3,417.7 784.8,414.4 782.5,420.0C780.2,425.6 780.8,423.9 778.8,426.9C776.7,429.9 778.1,429.2 776.2,429.0C774.4,428.8 775.2,429.7 773.1,426.2C771.0,422.8 772.5,424.4 770.0,418.8C767.5,413.1 767.1,412.5 765.6,409.4"/>
<path d="M780.0,391.2L785.6,410.0"/>
<path d="M500.0,437.5C499.8,435.5 499.7,435.5 499.4,431.4C499.0,427.4 499.2,429.4 499.0,425.3C498.8,421.3 498.9,423.3 498.8,419.2C498.8,415.1 498.8,417.2 498.9,413.1C499.1,409.0 499.0,411.0 499.3,406.9C499.6,402.9 499.4,404.9 499.8,400.8C500.3,396.7 500.0,398.8 500.6,394.7C501.1,390.7 500.8,392.7 501.5,388.6C502.2,384.6 501.8,386.6 502.7,382.6C503.5,378.6 503.1,380.6 504.0,376.6C504.9,372.6 504.4,374.6 505.5,370.7C506.5,366.8 506.0,368.7 507.1,364.8C508.3,360.9 507.7,362.9 508.9,359.0C510.2,355.2 509.5,357.1 510.9,353.4C512.2,349.6 511.5,351.5 513.0,347.7C514.5,344.0 513.7,345.9 515.3,342.2C516.9,338.5 516.1,340.3 517.8,336.6C519.6,333.0 518.7,334.8 520.6,331.1C522.5,327.5 521.5,329.3 523.6,325.6C525.8,322.0 524.6,323.8 527.0,320.1C529.3,316.5 528.1,318.2 530.6,314.8C533.2,311.4 531.9,312.9 534.7,309.9C537.6,306.9 536.0,308.2 539.2,305.7C542.3,303.3 540.7,304.2 544.1,302.5C547.6,300.8 545.8,301.4 549.5,300.6C553.2,299.8 551.4,299.9 555.2,300.0C558.9,300.1 557.1,299.9 560.8,300.9C564.5,302.0 562.7,301.3 566.2,303.3C569.8,305.2 568.1,304.1 571.3,306.7C574.6,309.4 573.1,308.0 576.0,311.1C579.0,314.1 577.6,312.6 580.2,316.0C582.8,319.3 581.6,317.6 583.9,321.1C586.1,324.6 585.0,322.9 587.0,326.5C588.9,330.1 588.0,328.3 589.7,332.0C591.3,335.7 590.5,333.9 592.0,337.7C593.4,341.5 592.7,339.6 594.0,343.4C595.3,347.3 594.7,345.3 595.8,349.2C597.0,353.1 596.9,353.1 597.5,355.0"/>
<path d="M516.0,519.0C516.3,520.9 516.3,520.9 517.0,524.8C517.7,528.7 517.4,526.8 518.1,530.7C518.8,534.6 518.4,532.7 519.1,536.6C519.8,540.6 519.5,538.6 520.2,542.5C521.0,546.5 520.6,544.5 521.4,548.5C522.2,552.4 521.7,550.5 522.6,554.4C523.4,558.4 523.0,556.4 523.9,560.4C524.8,564.3 524.3,562.3 525.2,566.3C526.2,570.2 525.7,568.2 526.7,572.2C527.7,576.1 527.2,574.1 528.3,578.0C529.4,581.9 528.8,579.9 530.0,583.8C531.2,587.6 530.6,585.7 531.9,589.5C533.1,593.3 532.5,591.4 533.9,595.2C535.3,599.0 534.5,597.1 536.0,600.8C537.5,604.5 536.7,602.7 538.4,606.3C540.0,609.9 539.2,608.1 540.9,611.7C542.7,615.3 541.7,613.5 543.6,617.0C545.5,620.5 544.5,618.8 546.6,622.2C548.6,625.6 547.6,623.9 549.8,627.2C552.0,630.6 550.8,628.9 553.2,632.2C555.5,635.4 554.3,633.8 556.9,636.9C559.4,640.1 558.1,638.5 560.8,641.6C563.5,644.6 563.6,644.5 565.0,646.0"/>
<path d="M605.0,476.2C605.1,479.6 604.2,480.2 605.2,486.2C606.2,492.3 607.1,491.7 608.0,494.4"/>
<path d="M672.5,612.5C670.7,613.1 670.7,613.1 667.0,614.3C663.3,615.5 665.1,614.9 661.4,616.1C657.6,617.3 659.5,616.7 655.8,617.9C652.0,619.1 653.9,618.5 650.1,619.7C646.3,620.8 648.2,620.2 644.4,621.4C640.6,622.5 642.5,622.0 638.7,623.1C634.9,624.3 636.8,623.7 632.9,624.8C629.1,626.0 631.0,625.4 627.2,626.5C623.3,627.7 625.3,627.1 621.4,628.2C617.5,629.4 619.5,628.8 615.6,629.9C611.7,631.1 613.7,630.5 609.8,631.7C605.9,632.8 607.9,632.2 604.0,633.4C600.1,634.6 602.0,634.0 598.2,635.1C594.3,636.3 596.2,635.7 592.3,636.9C588.5,638.1 590.4,637.5 586.5,638.7C582.7,639.9 584.6,639.3 580.7,640.6C576.9,641.8 578.8,641.2 574.9,642.4C571.1,643.7 573.0,643.1 569.2,644.3C565.3,645.6 567.2,645.0 563.4,646.3C559.6,647.6 561.5,647.0 557.7,648.3C553.8,649.7 555.7,649.0 552.0,650.4C548.2,651.8 550.0,651.1 546.3,652.5C542.5,654.0 544.4,653.2 540.6,654.7C536.9,656.2 538.7,655.5 535.0,657.0C531.3,658.5 533.1,657.7 529.4,659.3C525.7,660.9 527.6,660.1 523.9,661.8C520.3,663.4 522.1,662.6 518.4,664.3C514.8,666.0 516.6,665.1 513.0,666.9C509.4,668.6 511.2,667.7 507.7,669.5C504.1,671.4 505.9,670.4 502.3,672.3C498.8,674.2 500.6,673.3 497.1,675.2C493.6,677.2 495.3,676.2 491.9,678.2C488.5,680.3 490.2,679.2 486.8,681.3C483.4,683.4 485.1,682.4 481.8,684.6C478.4,686.7 480.1,685.6 476.8,687.9C473.5,690.2 475.2,689.0 471.9,691.4C468.7,693.7 470.3,692.5 467.1,695.0C464.0,697.4 465.5,696.2 462.4,698.7C459.3,701.3 460.9,700.0 457.8,702.6C454.8,705.2 456.3,703.9 453.3,706.6C450.3,709.4 451.8,708.0 448.9,710.8C446.0,713.6 447.4,712.2 444.6,715.1C441.9,718.1 443.2,716.6 440.6,719.7C438.0,722.7 439.3,721.2 436.9,724.4C434.5,727.6 435.6,726.0 433.5,729.3C431.4,732.7 432.4,731.0 430.6,734.5C428.8,738.0 429.6,736.2 428.2,739.8C426.7,743.5 427.3,741.6 426.2,745.4C425.0,749.1 425.5,747.2 424.7,751.1C423.8,754.9 424.2,753.0 423.7,756.8C423.2,760.7 423.3,758.8 423.2,762.6C423.0,766.5 423.0,764.6 423.2,768.5C423.4,772.4 423.2,770.4 423.8,774.3C424.3,778.2 424.0,776.3 424.9,780.1C425.8,783.9 425.3,782.0 426.5,785.8C427.8,789.6 427.1,787.7 428.6,791.4C430.1,795.1 429.3,793.3 431.1,796.9C432.9,800.6 432.0,798.8 434.0,802.3C436.1,805.9 435.0,804.1 437.3,807.6C439.6,811.0 438.4,809.3 440.9,812.7C443.4,816.0 442.1,814.4 444.7,817.6C447.4,820.8 446.0,819.2 448.8,822.3C451.6,825.4 450.2,823.9 453.1,826.9C456.0,829.8 454.5,828.4 457.5,831.2C460.5,834.0 459.0,832.6 462.0,835.4C465.1,838.1 463.6,836.8 466.7,839.4C469.9,842.0 468.3,840.7 471.5,843.3C474.6,845.9 473.0,844.6 476.3,847.1C479.5,849.6 477.9,848.4 481.1,850.8C484.3,853.3 482.7,852.0 485.9,854.5C489.1,856.9 487.5,855.7 490.7,858.1C493.9,860.5 492.3,859.3 495.4,861.7C498.5,864.0 497.0,862.8 500.1,865.2C503.1,867.6 501.6,866.4 504.6,868.8C507.6,871.3 507.5,871.3 509.0,872.5"/>
<path d="M547.5,784.0C549.2,785.1 549.2,785.1 552.7,787.3C556.1,789.6 554.4,788.4 557.9,790.7C561.3,793.0 559.6,791.9 563.0,794.2C566.4,796.5 564.7,795.3 568.1,797.6C571.5,800.0 569.8,798.8 573.2,801.2C576.5,803.6 574.8,802.4 578.2,804.8C581.5,807.2 579.9,806.0 583.2,808.4C586.5,810.9 584.8,809.6 588.1,812.1C591.4,814.6 589.8,813.4 593.0,815.9C596.3,818.4 594.7,817.1 597.9,819.7C601.1,822.3 599.5,821.0 602.7,823.6C605.9,826.2 604.3,824.9 607.5,827.5C610.7,830.1 609.1,828.8 612.2,831.5C615.3,834.2 613.8,832.8 616.9,835.6C620.0,838.3 618.4,836.9 621.5,839.7C624.5,842.4 623.0,841.0 626.0,843.9C629.0,846.7 627.5,845.2 630.5,848.1C633.5,851.0 632.0,849.5 634.9,852.4C637.8,855.3 636.4,853.9 639.3,856.8C642.2,859.7 640.7,858.3 643.6,861.2C646.4,864.2 645.0,862.7 647.8,865.8C650.6,868.8 649.2,867.3 651.9,870.3C654.7,873.4 654.6,873.4 656.0,875.0"/>
<path d="M667.5,751.0C669.5,751.4 669.4,751.3 673.4,752.1C677.3,752.9 675.3,752.5 679.2,753.4C683.2,754.2 681.2,753.8 685.1,754.7C689.1,755.6 687.1,755.1 691.1,756.1C695.0,757.0 693.0,756.5 697.0,757.5C701.0,758.4 699.0,757.9 703.0,758.9C707.0,759.8 705.0,759.4 709.0,760.3C713.0,761.2 711.0,760.8 715.0,761.7C719.0,762.5 717.0,762.1 721.0,763.0C725.0,763.8 723.0,763.4 727.0,764.2C731.0,764.9 729.0,764.6 733.1,765.3C737.1,766.0 735.1,765.6 739.1,766.2C743.2,766.8 741.1,766.6 745.2,767.0C749.2,767.5 747.2,767.3 751.3,767.6C755.3,768.0 753.3,767.9 757.3,768.1C761.4,768.3 759.3,768.2 763.4,768.2C767.4,768.3 765.4,768.3 769.4,768.2C773.4,768.1 771.4,768.2 775.4,767.9C779.4,767.6 777.4,767.8 781.3,767.3C785.3,766.8 783.3,767.1 787.2,766.3C791.1,765.6 789.2,766.0 793.0,765.1C796.9,764.2 794.9,764.7 798.8,763.6C802.6,762.4 800.7,763.0 804.4,761.7C808.2,760.4 806.3,761.1 810.0,759.6C813.8,758.1 811.9,758.9 815.6,757.3C819.3,755.6 817.5,756.5 821.1,754.7C824.8,753.0 823.0,753.9 826.6,752.0C830.2,750.1 828.4,751.1 832.0,749.2C835.6,747.2 833.8,748.2 837.4,746.2C841.0,744.2 839.2,745.2 842.8,743.1C846.4,741.1 844.6,742.1 848.2,740.0C851.7,738.0 850.0,739.0 853.5,736.9C857.1,734.9 855.3,735.9 858.9,733.8C862.4,731.8 860.6,732.8 864.2,730.7C867.7,728.7 866.0,729.7 869.5,727.7C873.1,725.8 871.3,726.7 874.9,724.8C878.4,722.9 876.6,723.9 880.2,722.1C883.8,720.3 882.0,721.1 885.6,719.4C889.2,717.7 889.2,717.8 891.0,717.0"/>
<path d="M837.5,653.0L893.0,621.2"/>
<path d="M363.1,120.0L363.1,159.8L324.0,159.8"/>
</g>
<g fill="none" stroke="#111" stroke-width="1.2" stroke-dasharray="6 3" stroke-linecap="butt">
<path d="M753.5,304.0C754.3,305.9 754.3,305.9 755.8,309.6C757.3,313.4 756.6,311.5 758.0,315.3C759.5,319.1 758.8,317.2 760.1,321.0C761.5,324.8 760.8,322.9 762.1,326.7C763.5,330.6 762.8,328.7 764.1,332.5C765.3,336.4 764.7,334.4 765.9,338.3C767.1,342.2 766.5,340.2 767.7,344.1C768.9,348.0 768.3,346.1 769.4,350.0C770.5,353.9 770.0,351.9 771.1,355.8C772.1,359.8 771.6,357.8 772.7,361.7C773.7,365.6 773.2,363.7 774.2,367.6C775.2,371.5 774.7,369.6 775.7,373.5C776.7,377.5 776.2,375.5 777.2,379.4C778.1,383.4 777.7,381.4 778.6,385.3C779.5,389.3 779.5,389.3 780.0,391.2"/>
<path d="M785.6,410.0C786.1,412.0 786.1,412.0 787.0,415.9C788.0,419.8 787.5,417.8 788.5,421.7C789.5,425.6 789.0,423.7 790.0,427.5C791.0,431.4 790.5,429.5 791.6,433.4C792.6,437.3 792.1,435.3 793.2,439.2C794.2,443.1 793.7,441.1 794.8,445.0C795.9,448.9 795.3,446.9 796.5,450.8C797.6,454.7 797.0,452.7 798.1,456.6C799.2,460.5 798.7,458.5 799.8,462.4C800.9,466.2 800.4,464.3 801.5,468.2C802.7,472.0 802.1,470.1 803.2,474.0C804.4,477.8 803.8,475.9 804.9,479.7C806.1,483.6 805.5,481.7 806.6,485.5C807.8,489.4 807.2,487.5 808.4,491.3C809.5,495.2 808.9,493.2 810.0,497.1C811.2,501.0 810.6,499.0 811.7,502.9C812.8,506.8 812.3,504.8 813.4,508.7C814.5,512.6 814.5,512.6 815.0,514.5"/>
<path d="M500.0,437.5C500.4,439.6 500.4,439.6 501.3,443.8C502.1,447.9 501.7,445.9 502.6,450.0C503.6,454.2 503.1,452.1 504.1,456.2C505.1,460.4 504.6,458.3 505.6,462.5C506.6,466.6 506.1,464.5 507.1,468.7C508.1,472.8 507.6,470.7 508.6,474.9C509.6,479.0 509.1,477.0 510.1,481.1C511.0,485.3 510.6,483.2 511.5,487.4C512.3,491.5 511.9,489.4 512.7,493.6C513.5,497.8 513.1,495.7 513.8,499.9C514.5,504.1 514.2,502.0 514.8,506.2C515.3,510.5 515.1,508.3 515.5,512.6C515.9,516.9 515.8,516.9 516.0,519.0"/>
<path d="M597.5,355.0C597.7,357.0 597.8,357.0 598.2,361.0C598.7,365.1 598.4,363.1 598.9,367.1C599.3,371.1 599.1,369.1 599.5,373.1C599.8,377.2 599.7,375.1 600.0,379.2C600.4,383.2 600.2,381.2 600.5,385.2C600.9,389.3 600.7,387.2 601.0,391.3C601.3,395.3 601.1,393.3 601.4,397.3C601.7,401.4 601.6,399.4 601.8,403.4C602.1,407.4 601.9,405.4 602.2,409.5C602.4,413.5 602.3,411.5 602.5,415.5C602.7,419.6 602.6,417.6 602.8,421.6C603.0,425.7 602.9,423.6 603.1,427.7C603.3,431.7 603.2,429.7 603.4,433.7C603.5,437.8 603.5,435.8 603.6,439.8C603.8,443.9 603.7,441.8 603.9,445.9C604.0,449.9 603.9,447.9 604.1,452.0C604.3,456.0 604.2,454.0 604.3,458.0C604.5,462.1 604.4,460.1 604.5,464.1C604.7,468.2 604.6,466.1 604.8,470.2C604.9,474.2 604.9,474.2 605.0,476.2"/>
<path d="M579.7,316.4C578.8,318.3 578.5,318.3 576.9,322.2C575.3,326.1 576.0,324.1 574.8,328.0C573.7,332.0 574.2,330.0 573.5,333.9C572.8,337.9 573.1,335.9 572.8,339.9C572.5,343.9 572.6,341.9 572.6,345.9C572.6,349.8 572.6,347.9 572.9,351.8C573.2,355.8 573.0,353.8 573.6,357.8C574.1,361.8 573.8,359.8 574.6,363.8C575.3,367.8 574.9,365.8 575.8,369.8C576.7,373.7 576.2,371.7 577.2,375.7C578.2,379.6 577.7,377.6 578.8,381.5C579.9,385.4 579.3,383.5 580.5,387.4C581.7,391.3 581.1,389.3 582.3,393.2C583.6,397.0 582.9,395.1 584.2,399.0C585.5,402.8 584.9,400.9 586.3,404.7C587.6,408.6 586.9,406.6 588.4,410.5C589.8,414.3 589.1,412.4 590.5,416.2C592.0,420.0 591.3,418.1 592.8,421.9C594.3,425.7 593.5,423.8 595.0,427.6C596.6,431.4 595.8,429.5 597.3,433.2C598.9,437.0 598.1,435.1 599.6,438.9C601.2,442.7 600.4,440.8 602.0,444.6C603.5,448.4 602.7,446.5 604.3,450.3C605.8,454.0 605.1,452.2 606.6,455.9C608.1,459.7 607.4,457.8 608.9,461.6C610.4,465.4 609.7,463.5 611.2,467.3C612.7,471.1 612.0,469.2 613.5,472.9C615.0,476.7 614.2,474.8 615.7,478.6C617.2,482.4 616.5,480.5 618.0,484.3C619.5,488.1 618.7,486.2 620.2,490.0C621.7,493.8 620.9,491.9 622.4,495.7C623.8,499.5 623.1,497.6 624.6,501.4C626.0,505.2 625.3,503.3 626.7,507.1C628.1,510.9 627.4,509.0 628.8,512.8C630.2,516.6 629.5,514.7 630.8,518.6C632.2,522.4 631.5,520.5 632.8,524.3C634.1,528.1 633.5,526.2 634.8,530.1C636.1,533.9 635.4,532.0 636.7,535.8C637.9,539.7 637.3,537.8 638.5,541.6C639.7,545.5 639.1,543.6 640.3,547.4C641.5,551.3 640.9,549.4 642.0,553.3C643.2,557.2 642.6,555.2 643.7,559.1C644.8,563.0 644.3,561.1 645.3,565.0C646.3,568.9 645.8,566.9 646.8,570.9C647.8,574.8 647.3,572.8 648.2,576.8C649.2,580.7 648.7,578.7 649.6,582.7C650.5,586.7 650.1,584.7 650.9,588.7C651.7,592.6 651.3,590.7 652.1,594.7C652.9,598.6 652.5,596.6 653.2,600.7C653.9,604.7 653.9,604.7 654.2,606.7"/>
<path d="M447.5,376.9C449.5,377.2 449.6,377.1 453.6,377.8C457.7,378.4 455.7,378.0 459.7,378.9C463.7,379.8 461.7,379.3 465.7,380.3C469.7,381.3 467.7,380.8 471.7,382.0C475.6,383.1 473.7,382.5 477.6,383.8C481.6,385.1 479.6,384.5 483.5,385.8C487.4,387.2 485.5,386.5 489.4,388.0C493.3,389.5 491.4,388.7 495.3,390.3C499.2,391.8 497.2,391.0 501.1,392.6C505.0,394.2 503.0,393.4 506.9,395.0C510.8,396.6 508.9,395.8 512.8,397.4C516.6,399.0 514.7,398.2 518.6,399.8C522.5,401.3 520.5,400.6 524.4,402.1C528.3,403.6 526.4,402.9 530.3,404.3C534.2,405.8 532.2,405.1 536.1,406.4C540.1,407.8 538.1,407.2 542.0,408.4C546.0,409.7 544.0,409.1 547.9,410.2C551.9,411.3 549.9,410.8 553.9,411.8C557.9,412.8 555.9,412.3 559.9,413.1C563.9,413.9 561.9,413.6 565.9,414.2C570.0,414.8 567.9,414.5 572.0,414.9C576.1,415.3 574.0,415.2 578.1,415.3C582.2,415.5 580.2,415.5 584.3,415.4C588.5,415.3 588.5,415.1 590.6,415.0"/>
<path d="M730.6,189.4C729.6,191.1 729.6,191.1 727.5,194.6C725.5,198.1 726.5,196.3 724.5,199.8C722.4,203.3 723.4,201.5 721.4,205.0C719.4,208.5 720.4,206.8 718.4,210.3C716.4,213.7 717.4,212.0 715.4,215.5C713.4,219.0 714.4,217.2 712.4,220.7C710.4,224.2 711.4,222.5 709.4,226.0C707.5,229.5 708.5,227.7 706.5,231.3C704.5,234.8 705.5,233.0 703.5,236.5C701.6,240.0 702.6,238.3 700.6,241.8C698.7,245.3 699.6,243.6 697.7,247.1C695.7,250.6 696.7,248.8 694.8,252.3C692.8,255.9 693.8,254.1 691.9,257.6C689.9,261.2 690.9,259.4 688.9,262.9C687.0,266.4 688.0,264.7 686.0,268.2C684.1,271.7 685.1,270.0 683.1,273.5C681.2,277.0 682.1,275.2 680.2,278.8C678.3,282.3 679.2,280.5 677.3,284.1C675.3,287.6 676.3,285.8 674.4,289.3C672.4,292.9 673.4,291.1 671.4,294.6C669.5,298.1 670.4,296.4 668.5,299.9C666.5,303.4 667.5,301.7 665.5,305.2C663.6,308.7 664.5,306.9 662.6,310.4C660.6,313.9 661.6,312.2 659.6,315.7C657.6,319.2 658.6,317.5 656.6,321.0C654.6,324.5 655.6,322.7 653.6,326.2C651.6,329.7 652.6,328.0 650.5,331.4C648.5,334.9 649.5,333.2 647.5,336.7C645.4,340.2 646.5,338.4 644.4,341.9C642.3,345.4 643.4,343.6 641.3,347.1C639.2,350.6 640.3,348.9 638.1,352.3C636.0,355.7 637.1,354.0 634.9,357.4C632.7,360.7 633.8,359.1 631.5,362.4C629.2,365.6 630.4,364.0 628.0,367.2C625.5,370.3 626.8,368.8 624.2,371.8C621.6,374.7 623.0,373.3 620.2,376.1C617.4,378.9 618.8,377.6 615.8,380.1C612.8,382.7 614.4,381.5 611.2,383.8C607.9,386.2 609.6,385.1 606.1,387.1C602.6,389.2 602.4,389.0 600.6,390.0"/>
</g>
<g fill="none" stroke="#222" stroke-width="1.05" stroke-linecap="round" stroke-linejoin="round">
<path d="M825.0,690.0C826.9,689.3 827.0,689.4 830.8,688.0C834.7,686.7 832.8,687.4 836.7,686.0C840.6,684.6 838.6,685.3 842.5,683.9C846.4,682.4 844.4,683.2 848.3,681.7C852.1,680.2 850.2,680.9 854.0,679.4C857.8,677.8 855.9,678.6 859.7,677.0C863.5,675.4 861.6,676.2 865.4,674.5C869.2,672.8 867.3,673.7 871.0,671.9C874.7,670.2 872.9,671.1 876.6,669.2C880.2,667.4 878.4,668.3 882.0,666.4C885.7,664.4 883.9,665.4 887.5,663.4C891.0,661.3 889.3,662.4 892.8,660.2C896.3,658.1 896.3,658.0 898.0,656.9"/>
<path d="M891.2,612.5C892.0,614.4 892.1,614.4 893.4,618.3C894.7,622.2 894.1,620.3 895.1,624.2C896.1,628.1 895.7,626.2 896.4,630.1C897.1,634.1 896.8,632.1 897.3,636.0C897.8,640.0 897.6,638.0 897.9,642.0C898.2,646.0 898.1,644.0 898.2,648.0C898.3,651.9 898.2,649.9 898.2,653.9C898.1,657.9 898.2,655.9 898.0,659.9C897.9,663.9 898.0,661.9 897.7,665.9C897.5,669.9 897.6,667.9 897.3,671.9C897.0,675.9 897.2,673.9 896.8,677.9C896.5,681.9 896.7,679.9 896.3,683.9C895.9,687.9 896.1,685.9 895.7,689.9C895.3,693.9 895.5,691.9 895.1,695.9C894.7,699.9 894.9,697.9 894.5,701.9C894.1,705.9 894.3,703.9 893.8,707.9C893.4,711.9 893.6,709.9 893.2,713.9C892.8,717.9 893.0,715.9 892.6,719.9C892.2,724.0 892.4,722.0 892.0,726.0C891.7,730.0 891.8,728.0 891.5,732.0C891.2,736.0 891.3,734.0 891.0,738.0C890.7,742.0 890.9,740.0 890.6,744.0C890.4,748.0 890.5,746.0 890.3,750.0C890.1,754.0 890.2,752.0 890.0,756.0C889.9,760.0 889.9,758.0 889.8,762.0C889.7,766.0 889.8,764.0 889.7,768.0C889.5,772.0 889.6,770.0 889.5,774.0C889.3,778.0 889.4,776.0 889.2,780.0C889.0,784.0 889.1,782.0 888.9,785.9C888.6,789.9 888.8,787.9 888.4,791.9C888.1,795.9 888.3,793.9 887.8,797.9C887.3,801.9 887.6,799.9 887.0,803.9C886.4,807.8 886.7,805.8 885.9,809.8C885.2,813.8 885.6,811.8 884.8,815.7C883.9,819.7 884.3,817.7 883.5,821.7C882.7,825.6 883.0,823.7 882.3,827.6C881.5,831.6 881.8,829.6 881.2,833.6C880.5,837.5 880.8,835.5 880.3,839.5C879.8,843.5 880.0,841.5 879.8,845.5C879.5,849.5 879.5,847.5 879.6,851.5C879.7,855.5 879.5,853.5 880.0,857.5C880.4,861.5 880.1,859.5 880.9,863.5C881.7,867.5 882.0,867.5 882.5,869.5"/>
<path d="M500.0,874.0C502.0,873.5 502.0,873.4 505.9,872.5C509.9,871.6 507.9,872.0 511.9,871.3C515.9,870.6 513.9,870.9 517.8,870.4C521.8,869.8 519.8,870.1 523.8,869.7C527.8,869.3 525.8,869.5 529.8,869.2C533.7,868.9 531.8,869.0 535.7,868.9C539.7,868.8 537.7,868.8 541.7,868.8C545.7,868.8 543.7,868.8 547.7,868.8C551.7,868.9 549.7,868.8 553.7,869.0C557.7,869.1 555.7,869.0 559.6,869.3C563.6,869.5 561.6,869.4 565.6,869.6C569.6,869.9 567.6,869.8 571.6,870.1C575.6,870.4 573.6,870.2 577.6,870.6C581.6,870.9 579.6,870.7 583.6,871.1C587.6,871.4 585.6,871.2 589.6,871.6C593.6,872.0 591.6,871.8 595.6,872.1C599.6,872.5 597.6,872.3 601.5,872.7C605.5,873.0 603.5,872.8 607.5,873.2C611.5,873.5 609.5,873.4 613.5,873.7C617.5,874.0 615.5,873.8 619.5,874.1C623.5,874.4 621.5,874.2 625.5,874.5C629.5,874.7 627.5,874.6 631.5,874.8C635.5,875.0 633.5,874.9 637.5,875.0C641.5,875.1 639.5,875.1 643.5,875.2C647.5,875.2 645.5,875.2 649.4,875.2C653.4,875.2 651.4,875.2 655.4,875.1C659.4,875.0 657.4,875.1 661.4,874.9C665.4,874.8 663.4,874.9 667.4,874.7C671.4,874.5 669.4,874.6 673.4,874.3C677.4,874.1 675.4,874.2 679.4,874.0C683.4,873.7 681.4,873.8 685.4,873.6C689.3,873.3 687.3,873.4 691.3,873.1C695.3,872.9 693.3,873.0 697.3,872.7C701.3,872.5 699.3,872.6 703.3,872.4C707.3,872.1 705.3,872.2 709.3,872.0C713.3,871.8 711.3,871.9 715.3,871.8C719.2,871.6 717.3,871.7 721.2,871.6C725.2,871.5 723.2,871.5 727.2,871.5C731.2,871.5 729.2,871.5 733.2,871.5C737.2,871.6 735.2,871.5 739.2,871.6C743.2,871.8 741.2,871.7 745.2,871.9C749.1,872.0 747.2,872.0 751.1,872.2C755.1,872.4 753.1,872.3 757.1,872.5C761.1,872.8 759.1,872.7 763.1,872.9C767.1,873.2 765.1,873.1 769.1,873.4C773.1,873.7 771.1,873.5 775.1,873.8C779.0,874.1 777.0,874.0 781.0,874.3C785.0,874.6 783.0,874.4 787.0,874.7C791.0,875.0 789.0,874.8 793.0,875.1C797.0,875.3 795.0,875.2 799.0,875.4C803.0,875.7 801.0,875.6 805.0,875.7C809.0,875.9 807.0,875.8 810.9,876.0C814.9,876.1 812.9,876.0 816.9,876.1C820.9,876.1 818.9,876.1 822.9,876.1C826.9,876.1 824.9,876.1 828.9,876.1C832.9,876.0 830.9,876.0 834.9,875.9C838.9,875.7 836.9,875.8 840.9,875.6C844.8,875.3 842.8,875.5 846.8,875.2C850.8,874.8 848.8,875.0 852.8,874.6C856.8,874.2 854.8,874.4 858.7,873.9C862.7,873.4 860.7,873.7 864.7,873.0C868.7,872.4 866.7,872.8 870.6,872.0C874.6,871.3 872.6,871.7 876.6,870.9C880.5,870.0 880.5,870.0 882.5,869.5"/>
<path d="M350.0,448.1C350.6,450.1 351.1,450.1 351.9,454.2C352.8,458.4 352.5,456.3 352.6,460.4C352.6,464.6 352.6,462.5 352.2,466.6C351.7,470.8 351.9,468.7 351.1,472.8C350.3,477.0 350.6,474.9 349.7,479.1C348.8,483.2 349.1,481.1 348.3,485.3C347.5,489.4 347.7,487.4 347.2,491.5C346.8,495.6 346.8,493.6 346.9,497.7C347.0,501.8 346.6,499.8 347.5,503.9C348.4,508.0 348.8,508.0 349.5,510.0"/>
<path d="M554.7,607.5C553.8,609.0 553.4,608.9 551.9,611.9C550.4,614.9 550.8,615.0 550.3,616.6"/>
<path d="M554.7,607.5C554.9,609.2 555.1,609.0 555.3,612.5C555.5,616.0 555.3,616.2 555.3,618.1"/>
<path d="M649.4,45.6C648.0,47.4 647.3,47.2 645.1,51.0C642.9,54.8 643.9,52.9 642.9,57.0C641.9,61.1 642.4,59.0 642.1,63.3C641.9,67.6 642.1,65.5 642.1,69.8C642.1,74.2 642.3,72.1 642.2,76.4C642.1,80.8 642.4,78.7 641.7,82.9C641.0,87.1 641.6,85.1 640.0,89.0C638.4,93.0 639.3,91.1 637.0,94.8C634.6,98.5 635.8,96.8 632.9,100.1C629.9,103.4 629.7,103.2 628.1,104.7"/>
<path d="M633.4,90.9L628.1,104.7L641.2,95.9"/>
<path d="M436.9,293.7C438.8,294.6 438.8,294.5 442.5,296.3C446.3,298.0 444.4,297.1 448.1,299.0C451.8,300.8 449.9,299.9 453.6,301.8C457.3,303.7 455.5,302.8 459.1,304.7C462.8,306.7 460.9,305.7 464.6,307.6C468.3,309.6 466.4,308.6 470.1,310.6C473.8,312.5 471.9,311.5 475.6,313.4C479.3,315.2 477.5,314.4 481.2,316.1C484.9,317.9 483.1,317.0 486.8,318.7C490.6,320.3 488.7,319.5 492.6,321.0C496.4,322.4 494.5,321.8 498.4,323.0C502.3,324.3 500.3,323.7 504.3,324.8C508.3,325.8 506.3,325.4 510.3,326.2C514.3,327.1 512.3,326.7 516.4,327.4C520.5,328.1 518.4,327.8 522.5,328.3C526.7,328.8 524.6,328.6 528.7,328.9C532.9,329.2 530.8,329.1 535.0,329.3C539.2,329.4 539.2,329.4 541.3,329.4"/>
<path d="M428.8,326.9C430.7,327.5 430.9,327.3 434.6,328.8C438.4,330.3 436.6,329.5 440.0,331.5C443.5,333.5 441.8,332.4 445.0,334.8C448.2,337.2 446.6,336.0 449.7,338.6C452.8,341.2 451.2,339.9 454.2,342.7C457.2,345.5 455.7,344.1 458.6,347.0C461.5,349.9 460.0,348.5 463.0,351.3C465.9,354.1 464.4,352.8 467.4,355.5C470.4,358.1 468.9,356.9 472.1,359.3C475.2,361.8 473.6,360.7 477.0,362.8C480.4,364.8 478.6,363.9 482.3,365.6C486.0,367.2 484.0,366.6 488.1,367.6C492.1,368.7 492.3,368.4 494.4,368.7"/>
<path d="M481.9,359.4L494.4,368.8L478.8,368.1"/>
<path d="M410.0,404.4C412.0,404.6 412.1,404.4 416.1,404.9C420.1,405.4 418.1,405.1 422.0,405.9C426.0,406.8 424.0,406.3 427.9,407.4C431.8,408.5 429.8,407.9 433.7,409.2C437.5,410.5 435.6,409.9 439.4,411.3C443.2,412.7 441.3,412.0 445.0,413.5C448.8,415.0 446.9,414.3 450.7,415.8C454.4,417.3 452.6,416.6 456.3,418.0C460.1,419.5 458.2,418.8 462.0,420.2C465.8,421.5 463.9,420.9 467.7,422.1C471.5,423.2 469.6,422.7 473.5,423.6C477.3,424.6 475.4,424.2 479.3,424.8C483.2,425.4 481.2,425.2 485.2,425.5C489.2,425.8 487.2,425.8 491.3,425.6C495.4,425.4 495.4,425.2 497.5,425.0"/>
<path d="M485.0,420.0L497.5,425.0L483.8,428.8"/>
<path d="M426.9,543.1C428.9,543.3 428.9,543.4 433.0,543.6C437.1,543.7 435.0,543.7 439.1,543.6C443.2,543.6 441.1,543.6 445.2,543.4C449.3,543.2 447.3,543.3 451.3,542.9C455.4,542.6 453.4,542.8 457.4,542.3C461.5,541.8 459.5,542.0 463.6,541.5C467.6,541.0 465.6,541.3 469.7,540.7C473.8,540.2 471.7,540.4 475.8,539.9C479.9,539.4 477.9,539.7 481.9,539.2C486.0,538.8 484.0,539.0 488.1,538.7C492.2,538.4 490.1,538.5 494.2,538.4C498.3,538.3 496.2,538.2 500.3,538.3C504.4,538.4 502.4,538.3 506.5,538.7C510.6,539.0 508.5,538.7 512.6,539.4C516.7,540.0 516.7,540.2 518.8,540.6"/>
<path d="M504.4,535.0L518.8,540.6L503.8,543.8"/>
<path d="M433.8,576.9C435.8,576.8 435.9,577.0 440.0,576.5C444.0,576.0 442.0,576.3 446.0,575.4C449.9,574.6 448.0,575.1 451.8,573.9C455.7,572.7 453.7,573.3 457.5,571.9C461.3,570.5 459.4,571.2 463.1,569.6C466.8,567.9 465.0,568.8 468.6,567.0C472.3,565.2 470.5,566.1 474.1,564.2C477.7,562.3 475.9,563.3 479.5,561.4C483.2,559.5 481.3,560.4 485.0,558.5C488.6,556.6 486.8,557.5 490.5,555.7C494.1,553.9 492.3,554.8 496.0,553.1C499.7,551.5 497.8,552.2 501.6,550.8C505.4,549.4 503.5,550.0 507.4,548.8C511.3,547.6 509.3,548.1 513.3,547.3C517.3,546.4 517.4,546.6 519.4,546.3"/>
<path d="M440.0,612.5C442.0,612.2 442.0,612.3 446.0,611.6C449.9,611.0 447.9,611.3 451.9,610.5C455.9,609.8 453.9,610.2 457.8,609.3C461.8,608.4 459.8,608.9 463.8,607.9C467.7,606.9 465.7,607.4 469.7,606.4C473.6,605.3 471.6,605.9 475.6,604.7C479.5,603.6 477.5,604.2 481.5,603.1C485.4,601.9 483.4,602.5 487.4,601.3C491.3,600.1 489.3,600.7 493.3,599.6C497.2,598.4 495.2,599.0 499.2,597.8C503.1,596.6 501.1,597.2 505.1,596.1C509.0,594.9 507.0,595.5 511.0,594.4C514.9,593.3 512.9,593.8 516.9,592.8C520.8,591.7 518.8,592.2 522.8,591.3C526.7,590.3 524.8,590.8 528.7,589.9C532.7,589.0 530.7,589.4 534.6,588.7C538.6,587.9 536.6,588.3 540.6,587.6C544.6,587.0 542.6,587.3 546.6,586.8C550.5,586.3 548.6,586.5 552.5,586.2C556.5,585.9 554.5,586.0 558.5,585.8C562.6,585.7 560.5,585.7 564.6,585.8C568.6,585.8 566.6,585.7 570.6,586.0C574.6,586.2 572.6,586.0 576.7,586.5C580.7,587.0 578.7,586.7 582.8,587.4C586.8,588.1 584.8,587.7 588.9,588.7C592.9,589.6 593.0,589.8 595.0,590.3"/>
<path d="M423.1,638.5C425.2,638.1 425.1,638.1 429.3,637.4C433.4,636.7 431.3,637.1 435.4,636.4C439.5,635.8 437.5,636.1 441.6,635.4C445.7,634.8 443.7,635.1 447.8,634.5C451.9,633.8 449.9,634.2 454.0,633.5C458.1,632.9 456.1,633.2 460.2,632.6C464.3,631.9 462.2,632.2 466.4,631.6C470.5,630.9 468.4,631.2 472.5,630.5C476.6,629.8 474.6,630.2 478.7,629.4C482.8,628.6 480.7,629.0 484.8,628.2C488.9,627.3 486.9,627.8 490.9,626.9C495.0,626.0 493.0,626.4 497.0,625.4C501.0,624.4 499.0,625.0 503.0,623.9C507.0,622.8 505.0,623.4 509.0,622.2C513.0,620.9 511.0,621.6 514.9,620.3C518.9,618.9 516.9,619.6 520.8,618.2C524.7,616.7 522.8,617.5 526.7,615.9C530.5,614.3 528.6,615.1 532.4,613.4C536.2,611.6 536.2,611.5 538.1,610.6"/>
<path d="M463.8,661.5C469.2,660.4 468.3,660.9 480.0,658.1C491.7,655.3 488.3,654.8 498.8,653.1C509.2,651.4 504.6,651.6 511.2,653.1C517.9,654.6 514.8,654.4 518.8,657.5C522.7,660.6 521.6,660.8 523.1,662.5"/>
<path d="M756.3,230.0C756.0,232.0 756.2,232.0 755.5,235.9C754.8,239.9 755.2,237.9 754.1,241.7C753.1,245.6 753.6,243.7 752.3,247.5C750.9,251.2 751.6,249.4 750.1,253.1C748.6,256.8 749.3,255.0 747.7,258.7C746.0,262.4 746.8,260.5 745.2,264.2C743.5,267.9 744.3,266.1 742.7,269.8C741.0,273.5 741.8,271.6 740.3,275.4C738.9,279.1 739.5,277.2 738.3,281.0C737.0,284.8 737.6,282.9 736.6,286.7C735.7,290.5 736.0,288.6 735.4,292.4C734.8,296.3 735.0,294.4 734.8,298.3C734.6,302.2 734.6,300.2 734.8,304.2C735.1,308.2 734.8,306.2 735.5,310.2C736.3,314.3 735.7,312.2 737.0,316.3C738.3,320.4 738.6,320.4 739.4,322.5"/>
<path d="M732.5,310.0L739.4,322.5L741.9,309.4"/>
<path d="M815.6,217.5C815.3,219.7 815.7,219.8 814.7,224.0C813.8,228.3 814.4,226.2 812.9,230.2C811.4,234.3 812.1,232.3 810.2,236.1C808.3,240.0 809.3,238.1 807.1,241.9C805.0,245.7 806.0,243.8 803.8,247.6C801.6,251.3 802.6,249.4 800.5,253.2C798.5,257.1 799.4,255.1 797.6,259.0C795.9,263.0 796.6,260.9 795.3,265.1C794.1,269.2 794.5,267.0 794.0,271.4C793.4,275.7 793.8,275.9 793.8,278.1"/>
<path d="M866.2,425.2C870.0,425.2 870.4,423.4 877.5,425.0C884.6,426.6 881.7,427.3 887.5,430.0C893.3,432.7 889.0,432.1 895.0,433.1C901.0,434.1 902.1,433.1 905.6,433.1"/>
<path d="M701.2,495.0C703.0,496.1 703.0,496.2 706.6,498.4C710.2,500.5 708.4,499.5 712.1,501.4C715.7,503.3 713.9,502.4 717.6,504.2C721.3,505.9 719.5,505.1 723.2,506.7C727.0,508.2 725.1,507.5 728.9,508.9C732.7,510.3 730.8,509.7 734.7,510.9C738.6,512.2 736.6,511.6 740.5,512.8C744.4,513.9 742.5,513.3 746.4,514.4C750.4,515.4 748.4,514.9 752.4,515.8C756.3,516.8 754.3,516.3 758.3,517.1C762.3,518.0 760.3,517.6 764.4,518.3C768.4,519.1 766.4,518.7 770.4,519.4C774.5,520.1 772.4,519.7 776.5,520.3C780.6,521.0 778.5,520.7 782.6,521.2C786.7,521.8 784.7,521.5 788.8,522.1C792.8,522.6 790.8,522.3 794.9,522.9C799.0,523.4 796.9,523.1 801.0,523.7C805.1,524.2 803.1,523.9 807.2,524.4C811.3,525.0 809.2,524.7 813.3,525.3C817.4,525.8 815.4,525.5 819.4,526.1C823.5,526.7 821.5,526.4 825.5,527.0C829.6,527.6 827.6,527.3 831.6,528.0C835.7,528.7 833.7,528.3 837.7,529.1C841.7,529.8 839.7,529.4 843.7,530.3C847.7,531.1 845.7,530.7 849.7,531.6C853.6,532.6 853.6,532.6 855.6,533.1"/>
<path d="M742.5,546.9C743.2,549.0 742.8,549.4 744.5,553.2C746.1,557.1 745.2,555.3 747.5,558.5C749.8,561.7 748.6,560.3 751.4,562.9C754.2,565.5 752.8,564.3 756.0,566.4C759.3,568.6 757.6,567.6 761.2,569.3C764.7,570.9 762.9,570.2 766.7,571.5C770.5,572.8 768.6,572.2 772.5,573.1C776.5,574.1 774.5,573.7 778.5,574.4C782.6,575.1 780.6,574.8 784.7,575.2C788.9,575.7 786.8,575.5 791.1,575.8C795.3,576.1 793.2,575.9 797.5,576.1C801.8,576.2 799.7,576.2 804.0,576.3C808.4,576.3 806.2,576.3 810.6,576.4C814.9,576.4 812.8,576.4 817.1,576.4C821.4,576.5 819.3,576.5 823.6,576.6C827.8,576.8 825.7,576.7 829.9,576.9C834.1,577.2 832.1,577.0 836.2,577.5C840.3,578.0 838.3,577.6 842.3,578.3C846.2,579.0 844.3,578.6 848.1,579.6C852.0,580.5 851.9,580.7 853.7,581.3"/>
<path d="M744.0,749.5C743.3,751.5 743.2,751.5 741.9,755.6C740.7,759.6 741.3,757.6 740.4,761.6C739.4,765.7 739.8,763.6 739.2,767.7C738.5,771.7 738.8,769.7 738.4,773.7C738.0,777.8 738.1,775.8 737.9,779.8C737.7,783.9 737.8,781.8 737.8,785.9C737.8,789.9 737.8,787.9 738.0,792.0C738.1,796.0 738.0,794.0 738.3,798.1C738.7,802.1 738.5,800.1 738.9,804.2C739.4,808.2 739.2,806.2 739.7,810.3C740.3,814.3 740.0,812.3 740.6,816.4C741.2,820.4 740.9,818.4 741.6,822.5C742.3,826.5 742.0,824.5 742.7,828.6C743.4,832.6 743.0,830.6 743.8,834.7C744.5,838.8 744.1,836.7 744.8,840.8C745.5,844.9 745.2,842.8 745.9,846.9C746.5,851.0 746.2,849.0 746.8,853.1C747.4,857.1 747.1,855.1 747.7,859.2C748.2,863.3 747.9,861.2 748.3,865.3C748.7,869.4 748.6,867.4 748.8,871.5C749.1,875.6 749.0,873.5 749.1,877.6C749.2,881.7 749.2,879.7 749.1,883.8C749.0,887.9 749.1,885.8 748.8,889.9C748.5,894.0 748.8,892.0 748.2,896.1C747.7,900.2 747.6,900.2 747.2,902.2"/>
<path d="M336.9,408.5C337.4,410.6 336.8,411.1 338.4,414.9C340.0,418.7 339.1,416.8 341.6,419.9C344.2,423.0 342.9,421.5 346.1,424.0C349.3,426.6 347.7,425.3 351.3,427.6C354.8,429.9 353.1,428.6 356.7,430.9C360.4,433.2 358.7,431.9 362.1,434.4C365.4,437.0 364.0,435.5 366.8,438.5C369.6,441.5 368.5,439.7 370.4,443.5C372.3,447.2 371.8,447.7 372.5,449.8"/>
</g>
<g fill="#111" stroke="none">
<path d="M363.1,107.5L370.2,123.5L363.1,120.0L356.2,123.5Z"/>
<path d="M311.0,159.8L326.9,153.1L323.8,159.8L326.9,166.5Z"/>
</g>
<g stroke="#111" stroke-width="0.45" stroke-linejoin="round" fill="#111" font-family="'Liberation Sans', sans-serif" font-size="20" style="opacity:0.999">
<text transform="translate(645.69,41.50) scale(0.961,0.991)">R</text>
<text transform="translate(349.45,103.26) scale(0.989,0.981)">UP</text>
<text transform="translate(281.87,166.85) scale(0.974,0.973)">FR</text>
<text transform="translate(721.85,185.11) scale(0.901,0.967)">43a</text>
<text transform="translate(745.82,224.26) scale(0.936,0.978)">50</text>
<text transform="translate(805.16,213.51) scale(0.940,0.960)">53</text>
<text transform="translate(401.44,297.52) scale(0.927,0.946)">45b</text>
<text transform="translate(405.54,332.80) scale(0.927,0.934)">42</text>
<text transform="translate(419.46,381.42) scale(0.919,0.929)">R3</text>
<text transform="translate(324.58,404.35) scale(0.841,0.973)">R1</text>
<text transform="translate(385.53,410.10) scale(0.954,1.013)">43</text>
<text transform="translate(908.30,440.50) scale(0.958,1.009)">54</text>
<text transform="translate(859.78,540.50) scale(0.981,0.995)">52</text>
<text transform="translate(858.30,589.26) scale(0.952,0.991)">55</text>
<text transform="translate(403.03,548.91) scale(0.954,0.984)">45</text>
<text transform="translate(398.94,582.60) scale(0.920,0.999)">45a</text>
<text transform="translate(415.23,618.26) scale(0.855,0.981)">51</text>
<text transform="translate(398.40,645.11) scale(0.948,0.967)">35</text>
<text transform="translate(436.07,666.50) scale(0.943,0.977)">R2</text>
<text transform="translate(736.74,922.10) scale(0.889,0.991)">17</text>
</g>
</svg>
</body></html>
